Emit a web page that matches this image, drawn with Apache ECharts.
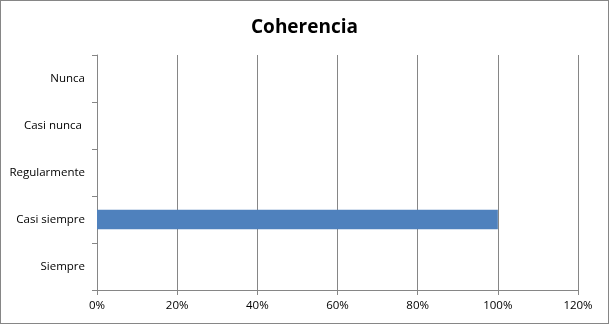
<!DOCTYPE html>
<html><head><meta charset="utf-8">
<script src="https://cdn.jsdelivr.net/npm/echarts@6/dist/echarts.min.js"></script>
<style>html,body{margin:0;padding:0;background:#fff}#c{width:609px;height:324px;box-sizing:border-box;border:1px solid #868686}</style>
</head><body><div id="c"></div>
<script>
const categories = ['Siempre', 'Casi siempre', 'Regularmente', 'Casi nunca ', 'Nunca'];
const values = [0, 1, 0, 0, 0];
const xTicks = [0, 0.2, 0.4, 0.6, 0.8, 1.0, 1.2];
const titleText = 'Coherencia';

const chart = echarts.init(document.getElementById('c'), null, {renderer: 'canvas'});
chart.setOption({
  animation: false,
  title: {text: titleText, left: 'center', top: 12,
    textStyle: {fontFamily: 'Open Sans', fontWeight: 'bold', fontSize: 19, color: '#000'}},
  grid: {left: 96, right: 30, top: 54, bottom: 33, containLabel: false},
  xAxis: {type: 'value', min: xTicks[0], max: xTicks[xTicks.length - 1], interval: 0.2,
    axisLine: {show: true, lineStyle: {color: '#868686'}},
    axisTick: {show: true, length: 5, lineStyle: {color: '#868686'}},
    splitLine: {show: true, lineStyle: {color: '#868686'}},
    axisLabel: {formatter: v => Math.round(v * 100) + '%', color: '#000', fontFamily: 'Open Sans', fontSize: 11.5, margin: 10}},
  yAxis: {type: 'category', data: categories,
    axisLine: {show: true, lineStyle: {color: '#868686'}},
    axisTick: {show: true, length: 5, lineStyle: {color: '#868686'}},
    axisLabel: {color: '#000', fontFamily: 'Open Sans', fontSize: 11.5, margin: 12}},
  series: [{type: 'bar', data: values, barWidth: '41%', itemStyle: {color: '#4F81BD'}}]
});
</script></body></html>
